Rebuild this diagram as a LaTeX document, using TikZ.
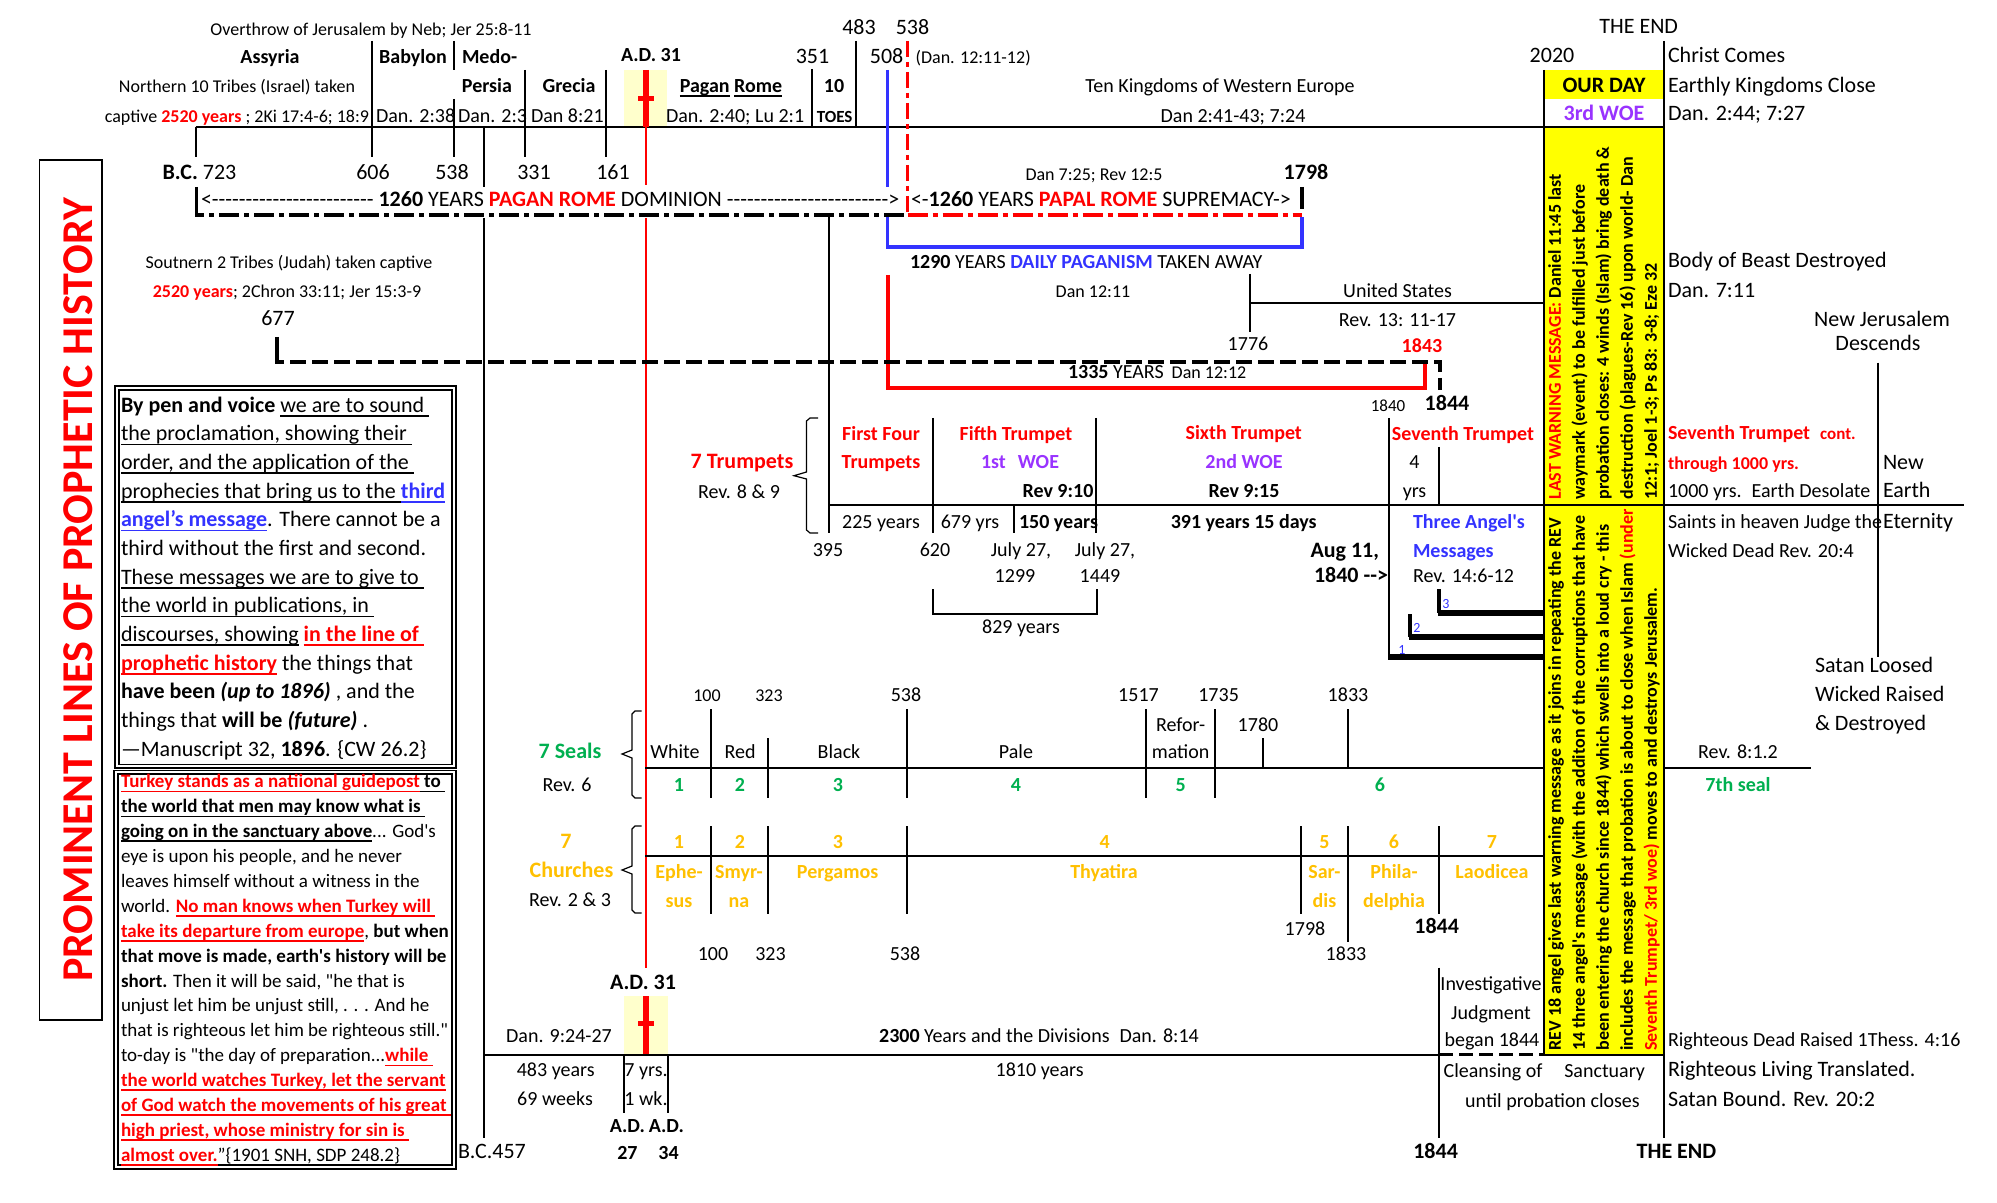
\documentclass[tikz,border=0pt]{standalone}
\usepackage{fontspec}
\setmainfont{Carlito}
\newfontfamily\calf{Carlito}
\definecolor{bl}{RGB}{51,51,255}
\definecolor{pu}{RGB}{153,51,255}
\definecolor{gr}{RGB}{0,176,80}
\definecolor{go}{RGB}{255,192,0}
\definecolor{ly}{RGB}{255,255,204}
\definecolor{ye}{RGB}{255,255,0}
\newcount\hycnt
\newcommand\hyps[1]{\hycnt=0\relax\loop\ifnum\hycnt<#1 -\kern0pt\advance\hycnt by 1\relax\repeat}
\newsavebox\ulbox
\newcommand\ULn[1]{\sbox\ulbox{#1}\rlap{\vrule width\wd\ulbox height -1.4pt depth 2.2pt}\usebox\ulbox}
\newcommand\fz[1]{\calf\fontsize{#1}{#1}\selectfont}
\tikzset{
 tx/.style={inner sep=0pt,outer sep=0pt,anchor=mid,yshift=-1.2pt},
 a7/.style={tx,font=\fz{7}},
 a8/.style={tx,font=\fz{8.5}},
 a9/.style={tx,font=\fz{9}},
 a10/.style={tx,font=\fz{10}},
 a11/.style={tx,font=\fz{11}},
 b11/.style={tx,font=\fz{11},anchor=mid west},
 lft/.style={anchor=mid west},
 rgt/.style={anchor=mid east},
 rt/.style={inner sep=0pt,rotate=90,anchor=mid west,font=\fz{9}\bfseries},
 bk/.style={line width=1pt,black},
 thin/.style={line width=0.6pt,black},
 dd/.style={line width=1.7pt,dash pattern=on 10pt off 2.5pt on 2.5pt off 2.5pt},
}
\begin{document}
\begin{tikzpicture}[x=0.5pt,y=-0.5pt]
\fill[white] (0,0) rectangle (1997,1203);
\useasboundingbox (0,0) rectangle (1997,1203);
% fills
\fill[ly] (624,70) rectangle (667,127.7);
\fill[ly] (624,996) rectangle (667.7,1054);
\fill[ye] (1544,127) rectangle (1663.6,1055);
\fill[ye] (1544,70) rectangle (1663.6,99.3);
% title box
\draw[line width=0.8pt] (39.5,160) rectangle (102,1020);
\node[inner sep=0pt,anchor=center,rotate=90,font=\fz{22}\bfseries,text=red] (title) at (78,590) {PROMINENT LINES OF PROPHETIC HISTORY};
% text boxes
\draw[line width=0.9pt] (115,385.7) rectangle (456,768);
\draw[line width=0.6pt] (119,390) rectangle (452,764.5);
\draw[line width=0.9pt] (114,770.5) rectangle (456,1169);
\draw[line width=0.6pt] (118,774) rectangle (452,1165);
% main black lines
\draw[bk] (195.5,127)--(1663.6,127);
\draw[bk] (195.5,127)--(195.5,157);
\draw[bk] (372,41)--(372,157);
\draw[bk] (454,41)--(454,70) (454,99)--(454,157);
\draw[bk] (484,127)--(484,187) (484,218)--(484,1138);
\draw[bk] (525.4,70)--(525.4,157);
\draw[bk] (606,70)--(606,157);
\draw[bk] (812,69)--(812,127);
\draw[bk] (856,41)--(856,127);
\draw[bk] (829,215)--(829,533);
\draw[bk] (1544,70)--(1544,1055)--(1663.6,1055);
\draw[bk] (1663.6,41)--(1663.6,1138);
\draw[bk] (1249.6,274)--(1249.6,331.7) (1249.6,303.3)--(1544,303.3);
% red line and crosses
\draw[red,line width=1.3pt] (646,127)--(646,185) (646,218)--(646,967.5);
\draw[red,line width=2.7pt] (646,70)--(646,127);
\draw[red,line width=2.5pt] (638,99)--(654,99);
\draw[red,line width=2.7pt] (646,996)--(646,1054);
\draw[red,line width=2.5pt] (638,1023.6)--(654,1023.6);
% 1260 brackets
\draw[line width=1.8pt] (196.4,187)--(196.4,203);
\draw[line width=1.8pt] (1301.8,187)--(1301.8,209);
\draw[dd] (196.4,203)--(196.4,215)--(907.6,215);
\draw[dd,red] (907.6,215)--(1301.8,215);
\draw[red,line width=1.5pt,dash pattern=on 8pt off 2.5pt on 2.5pt off 2.5pt] (907.6,41)--(907.6,215);
\draw[bl,line width=1.8pt] (887.5,70)--(887.5,187);
\draw[bl,line width=1.8pt] (887.5,217)--(887.5,247)--(1301.8,247)--(1301.8,217);
% 1335 red bracket
\draw[red,line width=1.8pt] (888,275)--(888,388)--(1425,388)--(1425,361.7);
% 677 dashed
\draw[line width=2pt] (277,337)--(277,353);
\draw[line width=2pt,dash pattern=on 8pt off 3pt] (277,353)--(277,362)--(1440,362)--(1440,390);
% trumpets
\draw[bk] (933,418)--(933,533) (829,505)--(1964,505) (1014,505)--(1014,533) (1096,418)--(1096,533) (1388.8,418)--(1388.8,656.7) (1439,447)--(1439,505);
\draw[bk] (933,589)--(933,614)--(1097,614)--(1097,589);
\draw[line width=1.8pt] (1439,589)--(1439,613);
\draw[line width=3pt] (1438,613)--(1544,613);
\draw[line width=1.8pt] (1410,614)--(1410,637);
\draw[line width=3pt] (1409,637)--(1544,637);
\draw[line width=3pt] (1388,656.7)--(1544,656.7);
\draw[bk] (1878,362.7)--(1878,656.7);
% braces
\draw[thin] (818,418)--(810,418)--(806.5,421)--(806.5,472)--(794,475.7)--(806.5,479)--(806.5,530)--(810,533)--(818,533);
\draw[thin] (641.5,711)--(635,711)--(632,714)--(632,750)--(622,754)--(632,758)--(632,795)--(635,798)--(641.5,798);
\draw[thin] (641.5,826)--(635,826)--(632,829)--(632,866)--(622,870)--(632,874)--(632,910)--(635,913)--(641.5,913);
% seals
\draw[bk] (645,768)--(1544,768) (1663.6,768)--(1811,768);
\draw[bk] (711,709)--(711,798) (767.6,738)--(767.6,798) (907,709)--(907,798) (1145.5,709)--(1145.5,798) (1215,709)--(1215,798) (1263,738)--(1263,768) (1348,709)--(1348,768);
% churches
\draw[bk] (645,855.6)--(1544,855.6);
\draw[bk] (711,826)--(711,914) (767.6,826)--(767.6,914) (907,826)--(907,914) (1301,826)--(1301,914) (1348,826)--(1348,942) (1439,826)--(1439,914);
% bottom
\draw[bk] (484,1054.7)--(1439,1054.7);
\draw[line width=1.4pt,dash pattern=on 7pt off 3pt] (1439,1054.7)--(1544,1054.7);
\draw[bk] (624,1054.7)--(624,1113) (667.7,1054.7)--(667.7,1113) (1439,967.5)--(1439,1138);

% ---------- top texts
\node[a9] (ov) at (371,28) {Overthrow of Jerusalem by Neb; Jer 25:8-11};
\node[a10] (assy) at (270,56) {\bfseries Assyria};
\node[a10] (baby) at (413,56) {\bfseries Babylon};
\node[a10,lft] (medo) at (462,56) {\bfseries Medo-};
\node[a10] (ad31t) at (651,54) {\bfseries A.D. 31};
\node[a11] (n351) at (812.5,56) {351};
\node[a11] (n483) at (859,27) {483};
\node[a11] (n538t) at (912.5,27) {538};
\node[a11] (n508) at (886.6,56) {508};
\node[a9,lft] (d1211) at (915.6,56) {(Dan. 12:11-12)};
\node[a11] (theend) at (1638.7,26) {THE END};
\node[a11] (y2020) at (1552,55) {2020};
\node[b11] (cc) at (1668,55) {Christ Comes};
\node[b11] (ekc) at (1668,85) {Earthly Kingdoms Close};
\node[b11] (d244) at (1668,113) {Dan. 2:44; 7:27};
\node[a11] (ourday) at (1604,85) {\bfseries OUR DAY};
\node[a11] (woe3) at (1604,113) {\bfseries\color{pu}3rd WOE};
\node[a9] (north) at (237,85) {Northern 10 Tribes (Israel) taken};
\node[a10] (pers) at (487,85) {\bfseries Persia};
\node[a10] (grec) at (569,85) {\bfseries Grecia};
\node[a10] (pr) at (731,85) {\bfseries\ULn{Pagan} \ULn{Rome}};
\node[a10] (ten) at (834,85) {\bfseries 10};
\node[a10] (tkw) at (1220,85) {Ten Kingdoms of Western Europe};
\node[a9,rgt] (capt) at (369,115) {captive {\color{red}\bfseries 2520 years} ; 2Ki 17:4-6; 18:9};
\node[a10,lft] (d238) at (376,115) {Dan. 2:38};
\node[a10,lft] (d23) at (458,115) {Dan. 2:3};
\node[a10,lft] (d821) at (531,115) {Dan 8:21};
\node[a10,lft] (d240) at (666,115) {Dan. 2:40; Lu 2:1};
\node[a8] (toes) at (834.7,115) {\bfseries TOES};
\node[a10] (d241) at (1233,115) {Dan 2:41-43; 7:24};
\node[a11] (bc723) at (199.5,172) {\bfseries B.C.\mdseries\ 723};
\node[a11] (y606) at (373,172) {606};
\node[a11] (y538) at (452,172) {538};
\node[a11] (y331) at (534,172) {331};
\node[a11] (y161) at (613,172) {161};
\node[a9] (d725) at (1094,173) {Dan 7:25; Rev 12:5};
\node[a11] (y1798) at (1306,172) {\bfseries 1798};
\node[b11] (pagan) at (201,199) {<\hyps{24} {\bfseries 1260} YEARS {\color{red}\bfseries PAGAN ROME} DOMINION \hyps{24}>};
\node[b11] (papal) at (911,199) {<-{\bfseries 1260} YEARS {\color{red}\bfseries PAPAL ROME} SUPREMACY->};
% ---------- second band
\node[a9] (south) at (289,261.7) {Soutnern 2 Tribes (Judah) taken captive};
\node[a9] (s2520) at (287,290) {{\color{red}\bfseries 2520 years}; 2Chron 33:11; Jer 15:3-9};
\node[a11] (y677) at (278,318) {677};
\node[a10,lft] (p1290) at (910,261) {{\bfseries 1290} YEARS {\color{bl}\bfseries DAILY PAGANISM} TAKEN AWAY};
\node[a9] (d1211b) at (1093,290.7) {Dan 12:11};
\node[a10] (us) at (1397.5,290) {United States};
\node[a10] (r1311) at (1397.5,319) {Rev. 13: 11-17};
\node[a10] (y1776) at (1248,343) {1776};
\node[a10] (y1843) at (1422,345) {\color{red}\bfseries 1843};
\node[a10,lft] (p1335) at (1068,371) {{\bfseries 1335} YEARS\hspace{4pt}{\fz{9}Dan 12:12}};
\node[a8] (y1840) at (1388,404) {1840};
\node[a11] (y1844a) at (1447,403) {\bfseries 1844};
\node[b11] (bbd) at (1668,260.7) {Body of Beast Destroyed};
\node[b11] (d711) at (1668,290) {Dan. 7:11};
\node[a11] (nj1) at (1882,319) {New Jerusalem};
\node[a11] (nj2) at (1878,343) {Descends};
% ---------- trumpets
\node[a11] (tr7) at (742,461.7) {\color{red}\bfseries 7 Trumpets};
\node[a10] (rev89) at (739,491) {Rev. 8 \& 9};
\node[a10] (ff1) at (881,433) {\color{red}\bfseries First Four};
\node[a10] (ff2) at (881,461.7) {\color{red}\bfseries Trumpets};
\node[a10] (t5) at (1016,433) {\color{red}\bfseries Fifth Trumpet};
\node[a10] (w1) at (1020,461.7) {\color{pu}\bfseries 1st\hspace{0.6em}WOE};
\node[a10] (r910) at (1058,490.7) {\bfseries Rev 9:10};
\node[a10] (t6) at (1243.7,432.7) {\color{red}\bfseries Sixth Trumpet};
\node[a10] (w2) at (1244,461.7) {\color{pu}\bfseries 2nd WOE};
\node[a10] (r915) at (1244,490.7) {\bfseries Rev 9:15};
\node[a10] (t7) at (1463,433) {\color{red}\bfseries Seventh Trumpet};
\node[a10] (four) at (1414.5,461.7) {4};
\node[a10] (yrs4) at (1414.5,490.7) {yrs};
\node[a10,lft] (t7c) at (1668,432.7) {\color{red}\bfseries Seventh Trumpet\hspace{5pt}{\fz{8.5}cont.}};
\node[a9,lft] (thr) at (1668,462.3) {\color{red}\bfseries through 1000 yrs.};
\node[a10,lft] (desol) at (1668,490.7) {1000 yrs.\hspace{0.5em}Earth Desolate};
\node[b11] (new) at (1883,462) {New};
\node[b11] (earth) at (1883,490.7) {Earth};
\node[a10] (y225) at (881,521) {225 years};
\node[a10] (y679) at (970,521) {679 yrs};
\node[a10,lft] (y150) at (1019,521) {\bfseries 150 years};
\node[a10] (y391) at (1243.7,521) {\bfseries 391 years 15 days};
\node[a10] (tam) at (1469,521.7) {\color{bl}\bfseries Three Angel's};
\node[a10,lft] (sih) at (1668,521) {Saints in heaven Judge the};
\node[b11] (eter) at (1883,521) {Eternity};
\node[a10] (y395) at (828,549) {395};
\node[a10] (y620) at (935,549) {620};
\node[a10] (j27a) at (1021,549) {July 27,};
\node[a10] (j27b) at (1105,549) {July 27,};
\node[a11,rgt] (aug) at (1379,550) {\bfseries Aug 11,};
\node[a10,lft] (msg) at (1413,550) {\color{bl}\bfseries Messages};
\node[a10,lft] (wdr) at (1668,550) {Wicked Dead Rev. 20:4};
\node[a10] (y1299) at (1015,575) {1299};
\node[a10] (y1449) at (1100,575) {1449};
\node[a11,rgt] (a1840) at (1388,575) {\bfseries 1840 -\kern0pt->};
\node[a10,lft] (r146) at (1413,575) {Rev. 14:6-12};
\node[a10] (y829) at (1021,626.7) {829 years};
\node[a7] (ta3) at (1446,601.7) {\color{bl}3};
\node[a7] (ta2) at (1417,625.7) {\color{bl}2};
\node[a7] (ta1) at (1402,647) {\color{bl}1};
\node[b11] (sl) at (1815,665.7) {Satan Loosed};
\node[b11] (wr) at (1815,694.6) {Wicked Raised};
\node[b11] (dest) at (1815,723.4) {\& Destroyed};
% ---------- seals
\node[a9] (s100) at (707,694.6) {100};
\node[a9] (s323) at (769,694.6) {323};
\node[a10] (s538) at (906,694.6) {538};
\node[a10] (s1517) at (1138.5,694.6) {1517};
\node[a10] (s1735) at (1218.6,694.6) {1735};
\node[a10] (s1833) at (1348,694.6) {1833};
\node[a10] (refo1) at (1180.6,724) {Refor-};
\node[a10] (refo2) at (1180.6,751.8) {mation};
\node[a10] (s1780) at (1258,724) {1780};
\node[a11] (seal7) at (570,751.8) {\color{gr}\bfseries 7 Seals};
\node[a10] (rev6) at (567,784) {Rev. 6};
\node[a10] (sWhite) at (675,751.8) {White};
\node[a10] (sRed) at (740,751.8) {Red};
\node[a10] (sBlack) at (839,751.8) {Black};
\node[a10] (sPale) at (1016,751.8) {Pale};
\node[a10] (rev812) at (1738,751.8) {Rev. 8:1.2};
\node[a10] (g1) at (679,784) {\color{gr}\bfseries 1};
\node[a10] (g2) at (740,784) {\color{gr}\bfseries 2};
\node[a10] (g3) at (838,784) {\color{gr}\bfseries 3};
\node[a10] (g4) at (1016,784) {\color{gr}\bfseries 4};
\node[a10] (g5) at (1180.6,784) {\color{gr}\bfseries 5};
\node[a10] (g6) at (1380,784) {\color{gr}\bfseries 6};
\node[a10] (g7) at (1738,784) {\color{gr}\bfseries 7th seal};
% ---------- churches
\node[a11] (c7) at (566,841.8) {\color{go}\bfseries 7};
\node[a11] (chu) at (571.5,870.5) {\color{go}\bfseries Churches};
\node[a10] (rev23) at (570,899.6) {Rev. 2 \& 3};
\node[a10] (c1) at (679,841.8) {\color{go}\bfseries 1};
\node[a10] (c2) at (740,841.8) {\color{go}\bfseries 2};
\node[a10] (c3) at (838,841.8) {\color{go}\bfseries 3};
\node[a10] (c4) at (1104.6,841.8) {\color{go}\bfseries 4};
\node[a10] (c5) at (1324.4,841.8) {\color{go}\bfseries 5};
\node[a10] (c6) at (1394,841.8) {\color{go}\bfseries 6};
\node[a10] (c7b) at (1492,841.8) {\color{go}\bfseries 7};
\node[a10] (eph1) at (679,871) {\color{go}\bfseries Ephe-};
\node[a10] (eph2) at (679,900) {\color{go}\bfseries sus};
\node[a10] (smy1) at (739,871) {\color{go}\bfseries Smyr-};
\node[a10] (smy2) at (739,900) {\color{go}\bfseries na};
\node[a10] (perg) at (837.6,871) {\color{go}\bfseries Pergamos};
\node[a10] (thya) at (1104,871) {\color{go}\bfseries Thyatira};
\node[a10] (sar1) at (1324.4,871) {\color{go}\bfseries Sar-};
\node[a10] (sar2) at (1324.4,900) {\color{go}\bfseries dis};
\node[a10] (phi1) at (1394,871) {\color{go}\bfseries Phila-};
\node[a10] (phi2) at (1394,900) {\color{go}\bfseries delphia};
\node[a10] (lao) at (1492,871) {\color{go}\bfseries Laodicea};
\node[a10] (c1798) at (1305,928.4) {1798};
\node[a10] (c1833) at (1346,953.6) {1833};
\node[a11] (c1844) at (1436.7,926.6) {\bfseries 1844};
\node[a10] (c100) at (713,953.6) {100};
\node[a10] (c323) at (770.5,953.6) {323};
\node[a10] (c538) at (905,953.6) {538};
% ---------- bottom
\node[a11] (ad31b) at (643,982) {\bfseries A.D. 31};
\node[a10] (d924) at (559,1035.7) {Dan. 9:24-27};
\node[a10] (y2300) at (1039,1035.7) {{\bfseries 2300} Years and the Divisions\hspace{0.5em}Dan. 8:14};
\node[a10] (inv1) at (1491,983.7) {Investigative};
\node[a10] (inv2) at (1491,1012) {Judgment};
\node[a10] (inv3) at (1492,1039) {began 1844};
\node[a10,lft] (rdr) at (1668,1039) {Righteous Dead Raised 1Thess. 4:16};
\node[a10] (y483) at (555.7,1069.6) {483 years};
\node[a10] (w69) at (555,1098) {69 weeks};
\node[a10] (y7) at (646,1069.6) {7 yrs.};
\node[a10] (wk1) at (646,1098) {1 wk.};
\node[a10] (y1810) at (1039.6,1069.6) {1810 years};
\node[a10,lft] (clo) at (1443.7,1070.3) {Cleansing of};
\node[a10] (sanc) at (1604.6,1070.3) {Sanctuary};
\node[a10] (upc) at (1552.5,1100.4) {until probation closes};
\node[b11] (rlt) at (1668,1069.6) {Righteous Living Translated.};
\node[b11] (sbr) at (1668,1099) {Satan Bound. Rev. 20:2};
\node[a10] (ad27a) at (627.4,1125) {\bfseries A.D.};
\node[a10] (ad34a) at (666.4,1125) {\bfseries A.D.};
\node[a10] (ad27) at (627.4,1152.4) {\bfseries 27};
\node[a10] (ad34) at (668.5,1152.4) {\bfseries 34};
\node[b11] (bc457) at (458,1151) {B.C.457};
\node[a11] (e1844) at (1435.6,1151) {\bfseries 1844};
\node[a11] (eend) at (1676.5,1151) {\bfseries THE END};
% ---------- yellow rotated texts
\node[rt] (u1) at (1556,500) {{\color{red}LAST WARNING MESSAGE:} Daniel 11:45 last};
\node[rt] (u2) at (1580,500) {waymark (event) to be fulfilled just before};
\node[rt] (u3) at (1604,500) {probation closes: 4 winds (Islam) bring death \&};
\node[rt] (u4) at (1628,500) {destruction (plagues-Rev 16) upon world- Dan};
\node[rt] (u5) at (1652,500) {12:1; Joel 1-3; Ps 83: 3-8; Eze 32};
\node[rt] (l1) at (1556,1051) {REV 18 angel gives last warning message as it joins in repeating the REV};
\node[rt] (l2) at (1580,1051) {14 three angel's message (with the additon of the corruptions that have};
\node[rt] (l3) at (1604,1051) {been entering the church since 1844) which swells into a loud cry - this};
\node[rt] (l4) at (1628,1051) {includes the message that probation is about to close when Islam {\color{red}(under}};
\node[rt] (l5) at (1652,1051) {{\color{red}Seventh Trumpet/ 3rd woe)} moves to and destroys Jerusalem.};
% ---------- box 1
\begin{scope}[every node/.style={tx,anchor=mid west,font=\fz{11}}]
\node (b1) at (121,405) {{\bfseries By pen and voice} \ULn{we are to sound }};
\node (b2) at (121,433.7) {\ULn{the proclamation, showing their }};
\node (b3) at (121,462.3) {\ULn{order, and the application of the }};
\node (b4) at (121,491) {\ULn{prophecies that bring us to the }{\color{bl}\bfseries\ULn{third}}};
\node (b5) at (121,519.7) {{\color{bl}\bfseries\ULn{angel’s message}}. There cannot be a};
\node (b6) at (121,548.3) {third without the first and second.};
\node (b7) at (121,577) {\ULn{These messages we are to give to }};
\node (b8) at (121,605.7) {\ULn{the world in publications, in }};
\node (b9) at (121,634.3) {\ULn{discourses, showing} {\color{red}\bfseries\ULn{in the line of }}};
\node (b10) at (121,663) {{\color{red}\bfseries\ULn{prophetic history}} the things that};
\node (b11) at (121,691.7) {{\bfseries have been \itshape (up to 1896)} , and the};
\node (b12) at (121,720.3) {things that {\bfseries will be \itshape (future)} .};
\node (b13) at (121,749) {—Manuscript 32, {\bfseries 1896}. \{CW 26.2\}};
\end{scope}
% ---------- box 2
\begin{scope}[every node/.style={tx,anchor=mid west,font=\fz{9.5}}]
\node (k1) at (121,780.7) {{\color{red}\bfseries\ULn{Turkey stands as a natiional guidepost}}{\bfseries\ULn{ to }}};
\node (k2) at (121,805.6) {{\bfseries\ULn{the world that men may know what is }}};
\node (k3) at (121,830.5) {{\bfseries\ULn{going on in the sanctuary above}}... God's};
\node (k4) at (121,855.4) {eye is upon his people, and he never};
\node (k5) at (121,880.3) {leaves himself without a witness in the};
\node (k6) at (121,905.2) {world. {\color{red}\bfseries\ULn{No man knows when Turkey will }}};
\node (k7) at (121,930.1) {{\color{red}\bfseries\ULn{take its departure from europe}}, {\bfseries but when}};
\node (k8) at (121,955) {{\bfseries that move is made, earth's history will be}};
\node (k9) at (121,979.9) {{\bfseries short.} Then it will be said, "he that is};
\node (k10) at (121,1004.8) {unjust let him be unjust still, . . . And he};
\node (k11) at (121,1029.7) {that is righteous let him be righteous still."};
\node (k12) at (121,1054.6) {to-day is "the day of preparation...{\color{red}\bfseries\ULn{while }}};
\node (k13) at (121,1079.5) {{\color{red}\bfseries\ULn{the world watches Turkey, let the servant}}};
\node (k14) at (121,1104.4) {{\color{red}\bfseries\ULn{of God watch the movements of his great }}};
\node (k15) at (121,1129.3) {{\color{red}\bfseries\ULn{high priest, whose ministry for sin is }}};
\node (k16) at (121,1154.2) {{\color{red}\bfseries\ULn{almost over.}}”\{1901 SNH, SDP 248.2\}};
\end{scope}
\end{tikzpicture}
\end{document}
